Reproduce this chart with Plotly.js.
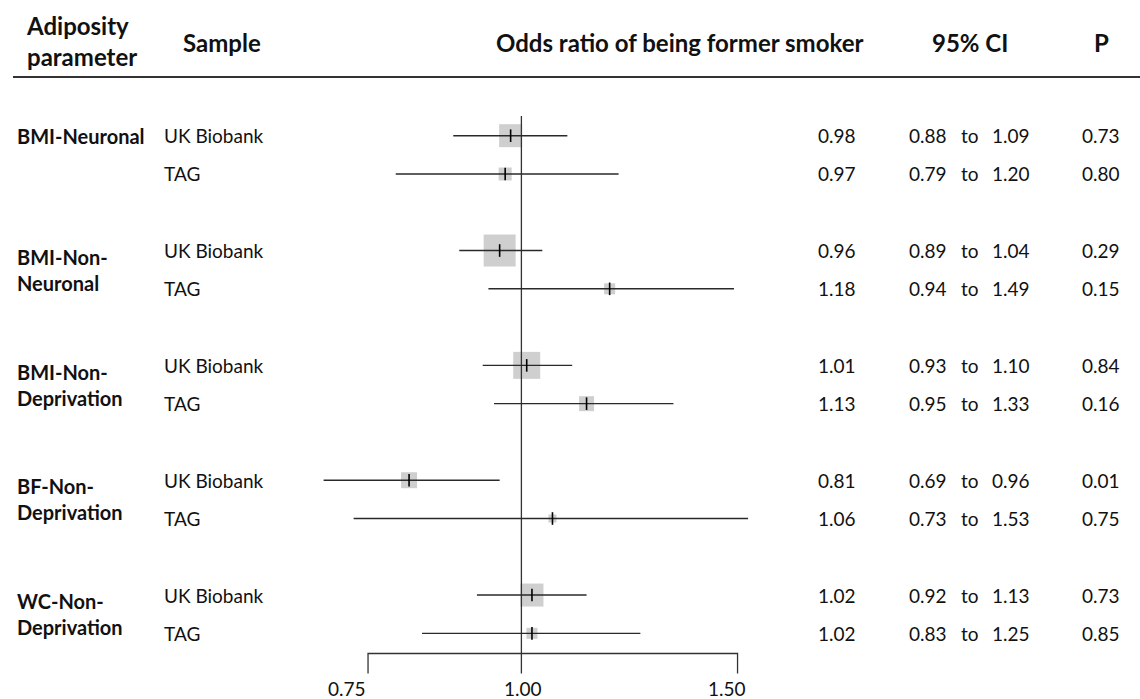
<!DOCTYPE html>
<html><head><meta charset="utf-8">
<script src="https://cdn.plot.ly/plotly-3.0.1.min.js"></script>
<style>html,body{margin:0;padding:0;background:#fff}#chart{width:1140px;height:699px}</style>
</head><body><div id="chart"></div>
<script>
// ---- data ----
const groups = ["BMI-Neuronal", "BMI-Non-<br>Neuronal", "BMI-Non-<br>Deprivation", "BF-Non-<br>Deprivation", "WC-Non-<br>Deprivation"];
const samples = ["UK Biobank", "TAG"];
const oddsRatio = [0.98, 0.97, 0.96, 1.18, 1.01, 1.13, 0.81, 1.06, 1.02, 1.02];
const ciLow     = [0.88, 0.79, 0.89, 0.94, 0.93, 0.95, 0.69, 0.73, 0.92, 0.83];
const ciHigh    = [1.09, 1.20, 1.04, 1.49, 1.10, 1.33, 0.96, 1.53, 1.13, 1.25];
const pValues   = ["0.73", "0.80", "0.29", "0.15", "0.84", "0.16", "0.01", "0.75", "0.73", "0.85"];
const weights   = [23, 13, 32, 11, 27, 15, 16, 8, 23, 11];
const tickVals  = [0.75, 1.00, 1.50];
const tickText  = ["0.75", "1.00", "1.50"];
const headers   = ["Adiposity<br>parameter", "Sample", "Odds ratio of being former smoker", "95% CI", "P"];

// ---- layout helpers (pixel geometry) ----
const W = 1140, H = 699;
const ROW0 = 135.7, ROWH = 38.28;           // pixel of first row, row pitch
const yOf = px => (px - ROW0) / ROWH;         // pixel -> row units
const xp = px => px / W;                      // pixel -> paper
const FONT = "Lato, 'Open Sans', sans-serif";

const rowIdx = oddsRatio.map((_, i) => 3 * Math.floor(i / 2) + (i % 2));

// whiskers
const wx = [], wy = [];
oddsRatio.forEach((_, i) => { wx.push(ciLow[i], ciHigh[i], null); wy.push(rowIdx[i], rowIdx[i], null); });

const yAxisLine = yOf(653.5), yTickEnd = yOf(673.5), yRefTop = yOf(116);

const traces = [
  { type: "scatter", mode: "markers", x: oddsRatio, y: rowIdx, hoverinfo: "skip",
    marker: { symbol: "square", size: weights, color: "#bababa", line: { width: 0 } } },
  { type: "scatter", mode: "lines", x: [1, 1], y: [yRefTop, yTickEnd], hoverinfo: "skip",
    line: { color: "#333", width: 1.3 } },
  { type: "scatter", mode: "lines", x: wx, y: wy, hoverinfo: "skip",
    line: { color: "#2a2a2a", width: 1.4 } },
  { type: "scatter", mode: "markers", x: oddsRatio, y: rowIdx, hoverinfo: "skip",
    marker: { symbol: "line-ns", size: 9, line: { color: "#000", width: 1.6 } } },
  { type: "scatter", mode: "lines",
    x: [tickVals[0], tickVals[0], tickVals[2], tickVals[2]],
    y: [yTickEnd, yAxisLine, yAxisLine, yTickEnd], hoverinfo: "skip",
    line: { color: "#333", width: 1.3 } }
];

const ann = [];
const txt = (text, x, y, opt = {}) => ann.push(Object.assign({
  text, x: xp(x), y, xref: "paper", yref: "y", showarrow: false,
  xanchor: "center", yanchor: "middle",
  font: { family: FONT, size: 19, color: "#111" }
}, opt));

// headers
const hdrFont = { family: FONT, size: 24, color: "#111" };
txt("<b>" + headers[0] + "</b>", 24, yOf(41), { xanchor: "left", align: "left", font: hdrFont });
txt("<b>" + headers[1] + "</b>", 181, yOf(42), { xanchor: "left", font: hdrFont });
txt("<b>" + headers[2] + "</b>", 679, yOf(42), { font: hdrFont });
txt("<b>" + headers[3] + "</b>", 970, yOf(42), { font: hdrFont });
txt("<b>" + headers[4] + "</b>", 1101, yOf(42), { font: hdrFont });

// group labels
groups.forEach((g, k) => {
  const multi = g.indexOf("<br>") >= 0;
  txt("<b>" + g + "</b>", 15, 3 * k + (multi ? 0.5 : 0),
      { xanchor: "left", align: "left", font: { family: FONT, size: 20, color: "#111" } });
});

// rows
oddsRatio.forEach((v, i) => {
  const r = rowIdx[i];
  txt(samples[i % 2], 162, r, { xanchor: "left" });
  txt(v.toFixed(2), 837, r);
  txt(ciLow[i].toFixed(2), 928, r);
  txt("to", 969.5, r);
  txt(ciHigh[i].toFixed(2), 1011, r);
  txt(pValues[i], 1101, r);
});

// axis tick labels (positioned through the x scale)
const tickShift = [-21, 2, -11];
tickVals.forEach((v, k) => ann.push({
  text: tickText[k], x: Math.log10(v), xref: "x", y: yOf(688.5), yref: "y",
  xshift: tickShift[k], showarrow: false, xanchor: "center", yanchor: "middle",
  font: { family: FONT, size: 19, color: "#111" }
}));

const layout = {
  width: W, height: H, margin: { l: 0, r: 0, t: 0, b: 0 },
  paper_bgcolor: "#fff", plot_bgcolor: "#fff", showlegend: false,
  xaxis: { type: "log", range: [-0.42477, 0.50395], visible: false, fixedrange: true },
  yaxis: { range: [yOf(H), yOf(0)], visible: false, fixedrange: true },
  annotations: ann,
  shapes: [{ type: "line", xref: "paper", yref: "y", x0: xp(13), x1: 1, y0: yOf(77), y1: yOf(77),
             line: { color: "#333", width: 2 } }]
};

Plotly.newPlot("chart", traces, layout, { displayModeBar: false, staticPlot: true });
</script>
</body></html>
